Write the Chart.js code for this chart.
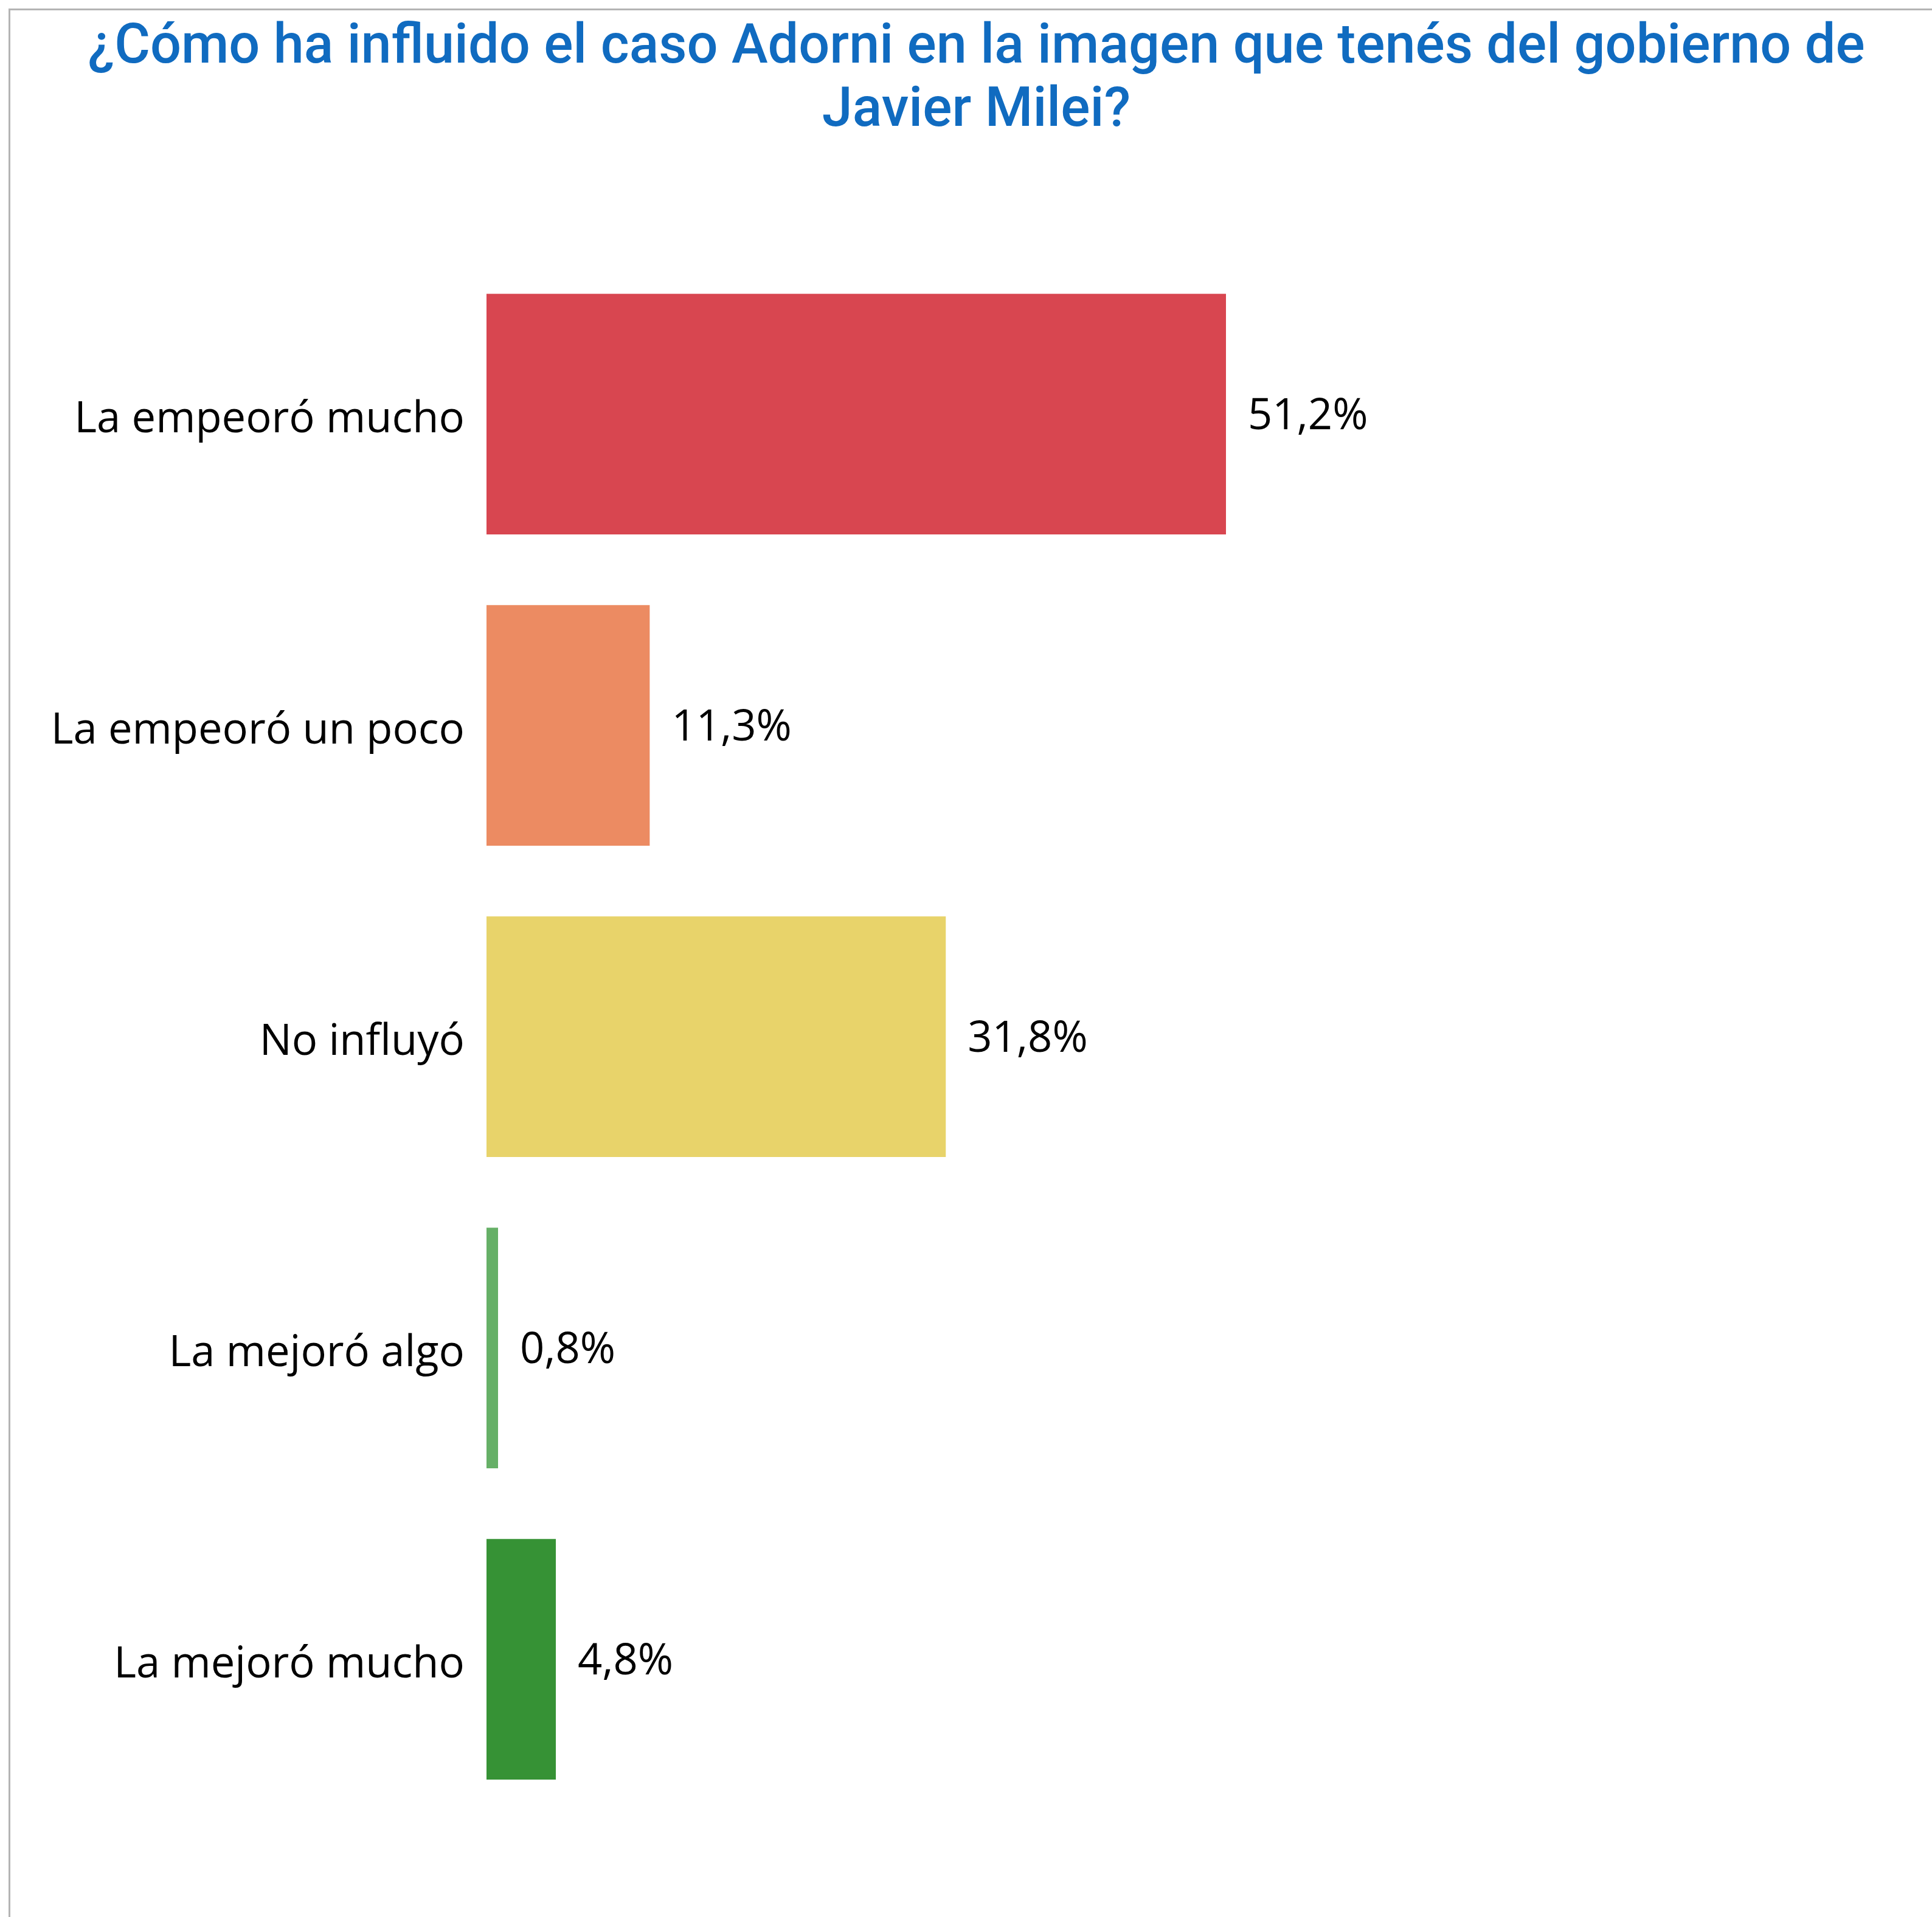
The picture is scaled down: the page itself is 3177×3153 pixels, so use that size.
<!DOCTYPE html>
<html>
<head>
<meta charset="utf-8">
<script src="https://cdn.jsdelivr.net/npm/chart.js@4.4.1/dist/chart.umd.min.js"></script>
<style>
  html, body { margin: 0; padding: 0; background: #ffffff; }
  #wrap { position: relative; width: 3177px; height: 3153px; }
  canvas { display: block; }
</style>
</head>
<body>
<div id="wrap"><canvas id="c" width="3177" height="3153"></canvas></div>
<script>
const titleLines = ["¿Cómo ha influido el caso Adorni en la imagen que tenés del gobierno de", "Javier Milei?"];
const categories = ["La empeoró mucho", "La empeoró un poco", "No influyó", "La mejoró algo", "La mejoró mucho"];
const values = [51.2, 11.3, 31.8, 0.8, 4.8];
const valueLabels = ["51,2%", "11,3%", "31,8%", "0,8%", "4,8%"];
const barColors = ["#D84650", "#EC8B62", "#E8D36A", "#66B067", "#369235"];

const labelFont = { family: "'Open Sans', 'Noto Sans', sans-serif", size: 70.5 };

const frame = {
  id: 'frame',
  beforeDraw(chart) {
    const ctx = chart.ctx;
    ctx.save();
    ctx.fillStyle = '#ffffff';
    ctx.fillRect(0, 0, chart.width, chart.height);
    ctx.fillStyle = '#b4b4b4';
    ctx.fillRect(14, 14, chart.width - 14, 3);
    ctx.fillRect(14, 14, 3, chart.height - 14);
    ctx.restore();
  }
};

const valueLabelPlugin = {
  id: 'valueLabels',
  afterDatasetsDraw(chart) {
    const ctx = chart.ctx;
    const meta = chart.getDatasetMeta(0);
    ctx.save();
    ctx.font = `${labelFont.size}px ${labelFont.family}`;
    ctx.fillStyle = '#000000';
    ctx.textAlign = 'left';
    ctx.textBaseline = 'middle';
    meta.data.forEach((bar, i) => {
      ctx.fillText(valueLabels[i], bar.x + 36, bar.y + 5);
    });
    ctx.restore();
  }
};

new Chart(document.getElementById('c'), {
  type: 'bar',
  data: {
    labels: categories,
    datasets: [{
      data: values,
      backgroundColor: barColors,
      borderWidth: 0,
      categoryPercentage: 1,
      barPercentage: 0.773
    }]
  },
  plugins: [frame, valueLabelPlugin],
  options: {
    indexAxis: 'y',
    responsive: false,
    animation: false,
    devicePixelRatio: 1,
    layout: { padding: { left: 36, right: 2, top: 0, bottom: 168 } },
    plugins: {
      legend: { display: false },
      tooltip: { enabled: false },
      title: {
        display: true,
        text: titleLines,
        color: '#106BC0',
        font: { family: "Roboto, sans-serif", size: 90, weight: 500, lineHeight: 1.156 },
        padding: { top: 28, bottom: 189 }
      }
    },
    scales: {
      x: { display: false, min: 0, max: 100 },
      y: {
        grid: { display: false },
        border: { display: false },
        ticks: { color: '#000000', font: labelFont, padding: 28, labelOffset: 10 },
        afterFit(scale) { scale.width = 764; }
      }
    }
  }
});
</script>
</body>
</html>
